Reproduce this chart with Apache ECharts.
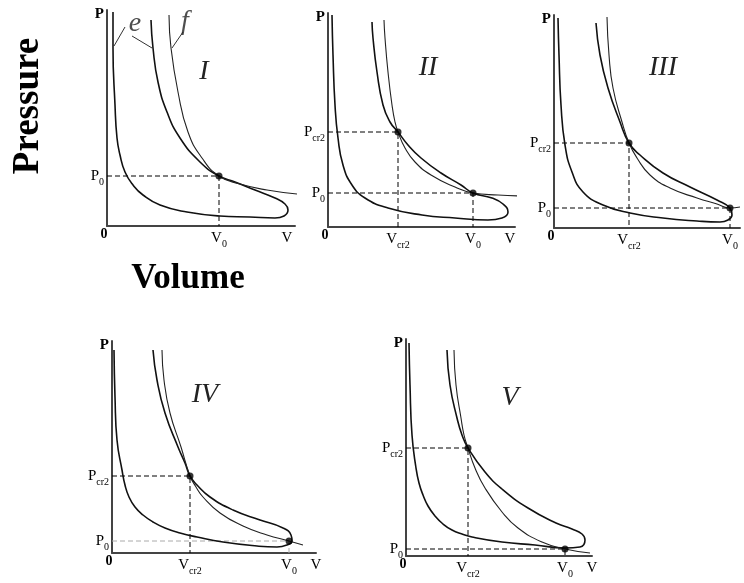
<!DOCTYPE html>
<html>
<head>
<meta charset="utf-8">
<title>Pressure - Volume</title>
<script src="https://cdn.jsdelivr.net/npm/echarts@6/dist/echarts.min.js"></script>
<style>
  html, body { margin: 0; padding: 0; background: #fff; }
  #chart { width: 744px; height: 583px; }
</style>
</head>
<body>
<div id="chart"></div>
<script>
const SERIF = '"Liberation Serif", "DejaVu Serif", serif';

// panel numbers
const panelNames = ['I', 'II', 'III', 'IV', 'V'];

// axis extents and marked states of every panel (arbitrary V / P units)
const vMax = [188, 187, 186, 204, 186];
const pMax = [216, 214, 213, 212, 217];
const vEnd = [180, 182, 184, 204, 186];  // where the letter V sits
const v0 = [112, 145, 176, 177, 159];
const p0 = [50, 34, 20, 12, 7];
const vCr2 = [null, 70, 75, 78, 62];
const pCr2 = [null, 95, 85, 77, 108];

// curve e: left branch down, along the bottom, round the loop, then up again
const eI = [[6, 214], [6, 178], [8, 121], [10, 88], [13, 71], [18, 54], [26, 41],
  [36, 31], [53, 21], [80, 14], [113, 10], [143, 9], [168, 8], [177, 10], [181, 16],
  [178, 22], [168, 28], [148, 36], [128, 44], [112, 50], [93, 64], [73, 88],
  [60, 114], [51, 144], [46, 178], [44, 206]];
const eII = [[4, 212], [5, 172], [7, 122], [10, 89], [15, 62], [24, 42], [37, 29],
  [60, 19], [94, 12], [127, 9], [160, 7], [174, 9], [180, 15], [175, 23], [164, 29],
  [145, 34], [133, 42], [113, 54], [93, 69], [80, 82], [70, 95], [62, 105],
  [55, 122], [49, 155], [45, 189], [44, 205]];
const eIII = [[4, 210], [5, 173], [7, 123], [11, 83], [18, 56], [29, 36], [49, 23],
  [76, 15], [109, 10], [143, 7], [166, 6], [174, 8], [178, 13], [176, 20], [163, 28],
  [136, 41], [109, 55], [86, 73], [75, 85], [66, 106], [54, 140], [46, 173],
  [42, 205]];
const eIV = [[2, 203], [3, 156], [5, 113], [10, 83], [13, 68], [17, 56], [23, 46],
  [31, 38], [41, 31], [53, 25], [68, 20], [85, 16], [111, 11], [145, 7], [165, 6],
  [175, 8], [180, 12], [179, 18], [171, 25], [148, 33], [121, 43], [98, 56],
  [85, 68], [78, 77], [73, 90], [66, 106], [53, 140], [45, 173], [41, 203]];
const eV = [[3, 213], [4, 171], [6, 121], [10, 88], [13, 73], [17, 61], [22, 50],
  [29, 40], [37, 32], [46, 26], [56, 22], [66, 19], [96, 14], [129, 11], [159, 8],
  [174, 9], [179, 16], [176, 22], [166, 27], [150, 33], [122, 48], [96, 67],
  [79, 84], [62, 108], [56, 121], [51, 138], [44, 171], [41, 206]];

// curve f: single branch through the marked states
const fI = [[62, 211], [64, 178], [71, 134], [81, 94], [95, 68], [112, 50],
  [133, 42], [160, 36], [190, 32]];
const fII = [[56, 207], [57, 189], [60, 155], [64, 122], [67, 105], [70, 95],
  [77, 79], [87, 65], [103, 52], [127, 40], [145, 34], [170, 32], [195, 31]];
const fIII = [[53, 211], [55, 173], [59, 140], [68, 106], [75, 85], [83, 70],
  [96, 53], [116, 40], [143, 30], [163, 24], [176, 20], [186, 21]];
const fIV = [[50, 203], [52, 173], [58, 140], [69, 106], [78, 77], [84, 66],
  [91, 56], [108, 40], [131, 27], [155, 18], [177, 12], [191, 8]];
const fV = [[48, 206], [50, 171], [55, 138], [58, 121], [62, 108], [69, 88],
  [79, 68], [96, 44], [112, 28], [136, 14], [159, 7], [184, 3]];

const eCurves = [eI, eII, eIII, eIV, eV];
const fCurves = [fI, fII, fIII, fIV, fV];

// letters e and f in panel I and the strokes that point to the curves
const letterE = [28, 202];
const letterF = [78, 204];
const leaderE1 = [[18, 199], [7, 180]];
const leaderE2 = [[25, 190], [45, 178]];
const leaderF = [[76, 194], [65, 178]];

// layout: pixel boxes of the five plots and of their numerals
const GRIDS = [
  {left: 107, top: 10, width: 188, height: 216},
  {left: 328, top: 13, width: 187, height: 214},
  {left: 554, top: 15, width: 186, height: 213},
  {left: 112, top: 341, width: 204, height: 212},
  {left: 406, top: 339, width: 186, height: 217}
];
const NUMERAL_POS = [[204, 72], [428, 68], [663, 68], [205, 395], [510, 398]];

const RICH = {
  m: {fontSize: 15, lineHeight: 22, fontFamily: SERIF, color: '#000'},
  s: {fontSize: 10, lineHeight: 10, verticalAlign: 'bottom', fontFamily: SERIF, color: '#000'},
  t: {fontSize: 15, lineHeight: 15, padding: [8, 0, 0, 0], fontWeight: 'bold', fontFamily: SERIF, color: '#000'},
  z: {fontSize: 14, lineHeight: 14, padding: [0, 6, 0, 0], fontWeight: 'bold', fontFamily: SERIF, color: '#000'}
};

function axisLine() {
  return {show: true, onZero: false, lineStyle: {color: '#444', width: 2}};
}

// x and y axis of panel i, labels only at the marked values
function buildAxes(i) {
  const xText = {0: '{z|0}'};
  xText[v0[i]] = '{m|V}{s|0}';
  xText[vEnd[i]] = '{m|V}';
  const yText = {};
  yText[p0[i]] = '{m|P}{s|0}';
  yText[pMax[i]] = '{t|P}';
  if (vCr2[i] != null) {
    xText[vCr2[i]] = '{m|V}{s|cr2}';
    yText[pCr2[i]] = '{m|P}{s|cr2}';
  }
  const xAxis = {
    gridIndex: i, type: 'value', min: 0, max: vMax[i],
    axisLine: axisLine(), axisTick: {show: false}, splitLine: {show: false},
    axisLabel: {
      customValues: Object.keys(xText).map(Number),
      formatter: (v) => xText[v] || '',
      rich: RICH, margin: 1, hideOverlap: false
    }
  };
  const yAxis = {
    gridIndex: i, type: 'value', min: 0, max: pMax[i],
    axisLine: axisLine(), axisTick: {show: false}, splitLine: {show: false},
    axisLabel: {
      customValues: Object.keys(yText).map(Number),
      formatter: (v) => yText[v] || '',
      rich: RICH, margin: 3, hideOverlap: false
    }
  };
  return {xAxis, yAxis};
}

function lineSeries(i, data, style, z) {
  return {
    type: 'line', xAxisIndex: i, yAxisIndex: i, data: data,
    showSymbol: false, symbol: 'none', clip: false, silent: true,
    lineStyle: style, z: z
  };
}

function buildSeries(i) {
  const series = [];
  // dashed guides from the axes to the marked states
  if (pCr2[i] != null) {
    series.push(lineSeries(i, [[0, pCr2[i]], [vCr2[i], pCr2[i]], [vCr2[i], 0]],
      {color: '#000', width: 1, type: [5, 3]}, 2));
  }
  series.push(lineSeries(i, [[0, p0[i]], [v0[i], p0[i]], [v0[i], 0]],
    {color: i === 3 ? '#aaa' : '#000', width: 1, type: [5, 3]}, 2));

  const e = lineSeries(i, eCurves[i], {color: '#111', width: 1.6}, 3);
  e.smooth = 0.5;
  const f = lineSeries(i, fCurves[i], {color: '#222', width: 1.1}, 3);
  f.smooth = 0.5;
  series.push(e, f);

  const dots = [[v0[i], p0[i]]];
  if (vCr2[i] != null) dots.push([vCr2[i], pCr2[i]]);
  series.push({
    type: 'scatter', xAxisIndex: i, yAxisIndex: i, data: dots,
    symbolSize: 7, itemStyle: {color: '#000'}, silent: true, z: 4
  });
  return series;
}

// letters e, f and their leader strokes, panel I only
function buildLetters() {
  const stroke = {color: '#333', width: 1};
  const letter = (pos, text) => ({
    type: 'scatter', xAxisIndex: 0, yAxisIndex: 0, data: [pos],
    symbolSize: 0, silent: true,
    label: {
      show: true, position: 'inside', formatter: text,
      fontFamily: SERIF, fontStyle: 'italic', fontSize: 28, color: '#222'
    }
  });
  return [
    lineSeries(0, leaderE1, stroke, 2),
    lineSeries(0, leaderE2, stroke, 2),
    lineSeries(0, leaderF, stroke, 2),
    letter(letterE, 'e'),
    letter(letterF, 'f')
  ];
}

const grid = [];
const xAxis = [];
const yAxis = [];
let series = [];
panelNames.forEach((name, i) => {
  grid.push(Object.assign({outerBoundsMode: 'none', containLabel: false}, GRIDS[i]));
  const axes = buildAxes(i);
  xAxis.push(axes.xAxis);
  yAxis.push(axes.yAxis);
  series = series.concat(buildSeries(i));
});
series = series.concat(buildLetters());

const graphic = panelNames.map((name, i) => ({
  type: 'text', x: NUMERAL_POS[i][0], y: NUMERAL_POS[i][1], silent: true,
  style: {
    text: name, fill: '#222', align: 'center', verticalAlign: 'middle',
    font: 'italic 28px ' + SERIF
  }
}));
graphic.push({
  type: 'text', x: 28, y: 106, rotation: Math.PI / 2, silent: true,
  style: {
    text: 'Pressure', fill: '#000', align: 'center', verticalAlign: 'middle',
    font: 'bold 37px ' + SERIF
  }
});
graphic.push({
  type: 'text', x: 188, y: 279, silent: true,
  style: {
    text: 'Volume', fill: '#000', align: 'center', verticalAlign: 'middle',
    font: 'bold 35px ' + SERIF
  }
});

const chart = echarts.init(document.getElementById('chart'));
chart.setOption({
  animation: false,
  backgroundColor: '#fff',
  grid: grid,
  xAxis: xAxis,
  yAxis: yAxis,
  series: series,
  graphic: graphic
});
</script>
</body>
</html>
